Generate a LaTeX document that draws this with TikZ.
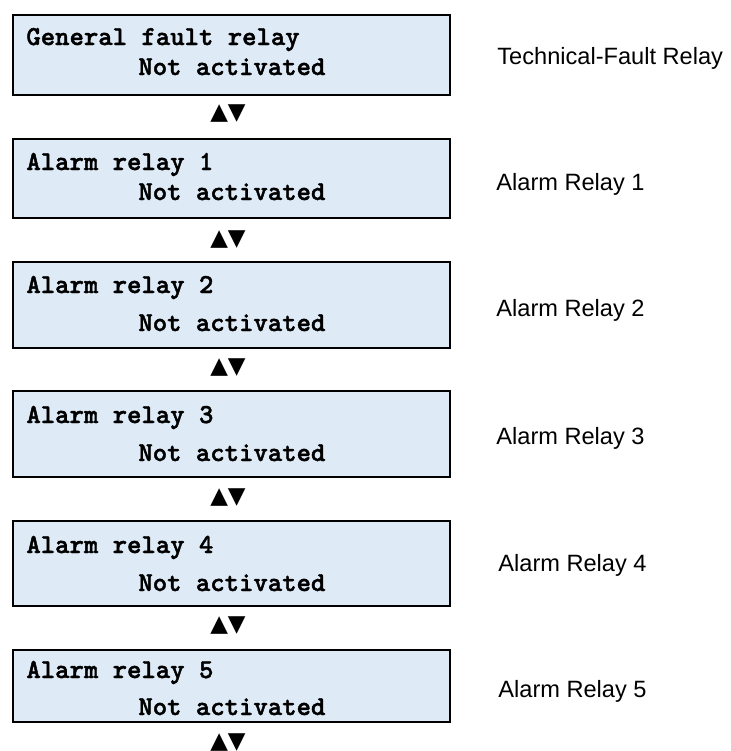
\documentclass[tikz,border=0pt]{standalone}
\usepackage{fontspec}
\setmainfont{Liberation Sans}
\newfontfamily\symfont{DejaVu Sans}
\newfontfamily\lcdfont{lmmonolt10-bold}[Extension=.otf, FakeBold=1.6]
\definecolor{lcdfill}{RGB}{222,235,247}
\begin{document}
\begin{tikzpicture}[x=0.5pt,y=-0.5pt,
  lcd/.style={draw=black, line width=1pt, fill=lcdfill, anchor=north west,
    minimum width=218.4pt, inner sep=0pt},
  lcdtext/.style={anchor=base west, inner sep=0pt, font=\lcdfont\fontsize{13.7}{16}\selectfont},
  lbl/.style={anchor=base west, inner sep=0pt, font=\fontsize{11.8}{14}\selectfont},
  nav/.style={anchor=center, inner sep=0pt, font=\symfont\fontsize{11.5}{14}\selectfont}]
\useasboundingbox (0,0) rectangle (731,751);
% boxes
\node[lcd, minimum height=40.15pt] (b1) at (11.7,13.7) {};
\node[lcd, minimum height=39.5pt] (b2) at (11.7,138) {};
\node[lcd, minimum height=43pt] (b3) at (11.7,261) {};
\node[lcd, minimum height=43pt] (b4) at (11.7,390) {};
\node[lcd, minimum height=42.5pt] (b5) at (11.7,520) {};
\node[lcd, minimum height=36pt] (b6) at (11.7,649) {};
% box texts
\node[lcdtext] (t1a) at (26,45) {General fault relay};
\node[lcdtext] (t1b) at (138,75) {Not activated};
\node[lcdtext] (t2a) at (26,170) {Alarm relay 1};
\node[lcdtext] (t2b) at (138,200) {Not activated};
\node[lcdtext] (t3a) at (26,293) {Alarm relay 2};
\node[lcdtext] (t3b) at (138,331) {Not activated};
\node[lcdtext] (t4a) at (26,423) {Alarm relay 3};
\node[lcdtext] (t4b) at (138,461) {Not activated};
\node[lcdtext] (t5a) at (26,553) {Alarm relay 4};
\node[lcdtext] (t5b) at (138,591) {Not activated};
\node[lcdtext] (t6a) at (26,678) {Alarm relay 5};
\node[lcdtext] (t6b) at (138,715) {Not activated};
% navigation arrows
\node[nav] (n1) at (228,113.5) {▲▼};
\node[nav] (n2) at (228,240) {▲▼};
\node[nav] (n3) at (228,367.5) {▲▼};
\node[nav] (n4) at (228,497.5) {▲▼};
\node[nav] (n5) at (228,625.5) {▲▼};
\node[nav] (n6) at (228,742.5) {▲▼};
% right labels
\node[lbl] (l1) at (497,64.5) {Technical-Fault Relay};
\node[lbl] (l2) at (496,190.5) {Alarm Relay 1};
\node[lbl] (l3) at (496,316.5) {Alarm Relay 2};
\node[lbl] (l4) at (496,444.5) {Alarm Relay 3};
\node[lbl] (l5) at (498,571.5) {Alarm Relay 4};
\node[lbl] (l6) at (498,697.5) {Alarm Relay 5};
\end{tikzpicture}
\end{document}
